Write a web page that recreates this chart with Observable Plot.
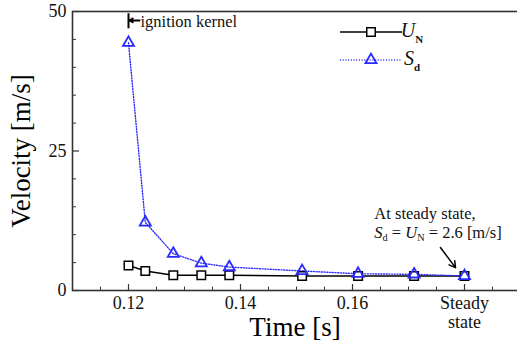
<!DOCTYPE html>
<html>
<head>
<meta charset="utf-8">
<script src="https://cdn.jsdelivr.net/npm/d3@7"></script>
<script src="https://cdn.jsdelivr.net/npm/@observablehq/plot@0.6"></script>
<style>
  html, body { margin: 0; padding: 0; background: #fff; }
  svg { display: block; }
</style>
</head>
<body>
<div id="chart"></div>
<script>
// ---- data ----
const times = [0.12, 0.123, 0.128, 0.133, 0.138, 0.151, 0.161, 0.171, 0.18];
const UN    = [4.5, 3.5, 2.75, 2.75, 2.75, 2.6, 2.6, 2.6, 2.6];
const Sd    = [44.4, 12.2, 6.6, 4.9, 4.2, 3.5, 3.0, 2.9, 2.6];

const xMajor = [0.12, 0.14, 0.16, 0.18];
const xLabels = ["0.12", "0.14", "0.16", "Steady\nstate"];
const xMinor = [0.115, 0.125, 0.13, 0.135, 0.145, 0.15, 0.155, 0.165, 0.17, 0.175, 0.185];
const yMajor = [0, 25, 50];
const yLabels = ["0", "25", "50"];
const yMinor = [5, 10, 15, 20, 30, 35, 40, 45];

const unData = times.map((t, i) => ({t, v: UN[i]}));
const sdData = times.map((t, i) => ({t, v: Sd[i]}));
const xTickData = xMajor.map((t, i) => ({t, label: xLabels[i]}));
const yTickData = yMajor.map((v, i) => ({v, label: yLabels[i]}));

// annotations (data units)
const ignition = {x: 0.12, y1: 46.9, y2: 49.6, ym: 48.4, textX: 0.12196, label: "ignition kernel"};
const steady = {x: 0.1639, y1: 13.8, y2: 10.4, arrowX1: 0.1757, arrowY1: 7.7, arrowX2: 0.1784, arrowY2: 4.1,
  line1: "At steady state,", line2: "S_d = U_N = 2.6 [m/s]"};

const W = 517, H = 345;
const mL = 72, mT = 11, mB = 55, mR = 0;
const frameW = W - mL - mR, frameH = H - mT - mB;
const font = "Liberation Serif";
const blue = "#2a2aff";
const axisColor = "#333";
const dotted = "1,1.7";

const plot = Plot.plot({
  width: W, height: H,
  marginLeft: mL, marginTop: mT, marginBottom: mB, marginRight: mR,
  style: {background: "#fff", overflow: "visible"},
  x: {domain: [0.11, 0.11 + frameW / 5600], axis: null},
  y: {domain: [0, 50], axis: null},
  marks: [
    // ticks (inward)
    Plot.ruleX(xMajor, {x: d => d, insetTop: frameH - 6, stroke: axisColor, strokeWidth: 1.2}),
    Plot.ruleX(xMinor, {x: d => d, insetTop: frameH - 3.5, stroke: axisColor, strokeWidth: 1}),
    Plot.ruleY(yMajor, {y: d => d, insetRight: frameW - 7, stroke: axisColor, strokeWidth: 1.2}),
    Plot.ruleY(yMinor, {y: d => d, insetRight: frameW - 4, stroke: axisColor, strokeWidth: 1}),
    // frame
    Plot.frame({stroke: axisColor, strokeWidth: 1.6, insetRight: -5}),
    // tick labels
    Plot.text(xTickData, {x: "t", text: "label", frameAnchor: "bottom", textAnchor: "middle", lineAnchor: "top", dy: 5,
      lineHeight: 1.05, fontSize: 18, fill: "#111"}),
    Plot.text(yTickData, {y: "v", text: "label", frameAnchor: "left", textAnchor: "end", lineAnchor: "middle", dx: -6,
      fontSize: 18, fill: "#111"}),
    // axis labels
    Plot.text(["Velocity [m/s]"], {frameAnchor: "left", textAnchor: "middle", lineAnchor: "middle", rotate: -90, dx: -51, fontSize: 27, fill: "#000"}),
    Plot.text(["Time [s]"], {frameAnchor: "bottom", textAnchor: "middle", lineAnchor: "middle", dy: 37, fontSize: 27, fill: "#000"}),
    // series
    Plot.line(unData, {x: "t", y: "v", stroke: "#000", strokeWidth: 1.5}),
    Plot.line(sdData, {x: "t", y: "v", stroke: blue, strokeWidth: 1.4, strokeDasharray: dotted}),
    Plot.dot(unData, {x: "t", y: "v", symbol: "square", r: 4.8, stroke: "#000", fill: "#fff", strokeWidth: 1.5}),
    Plot.dot(sdData, {x: "t", y: "v", symbol: "triangle", r: 4.1, stroke: blue, fill: "none", strokeWidth: 1.8}),
    // ignition kernel annotation
    Plot.ruleX([ignition], {x: "x", y1: "y1", y2: "y2", stroke: "#000", strokeWidth: 2}),
    Plot.arrow([ignition], {x1: "textX", x2: "x", y1: "ym", y2: "ym", stroke: "#000", strokeWidth: 2, headLength: 5, insetEnd: 1}),
    Plot.text([ignition], {x: "textX", y: "ym", text: "label", textAnchor: "start", dx: 1, dy: 1, fontSize: 16.5, fill: "#111"}),
    // steady-state annotation
    Plot.text([steady], {x: "x", y: "y1", text: "line1", textAnchor: "start", fontSize: 16.5, fill: "#111"}),
    Plot.text([steady], {x: "x", y: "y2", text: "line2", textAnchor: "start", fontSize: 16.5, fill: "#111"}),
    Plot.arrow([steady], {x1: "arrowX1", y1: "arrowY1", x2: "arrowX2", y2: "arrowY2", stroke: "#000", strokeWidth: 1.5, headLength: 7})
  ]
});

const svg = d3.select(plot);
// rich text for subscripts
function rich(sel, parts) {
  sel.text(null);
  parts.forEach(([s, style]) => {
    const t = sel.append("tspan").text(s);
    if (style === "i") t.attr("font-style", "italic");
    if (style === "sub") t.attr("font-size", "0.62em").attr("baseline-shift", "-30%");
  });
}
svg.selectAll("text").each(function() {
  const el = d3.select(this);
  if (el.text() === steady.line2) {
    rich(el, [["S", "i"], ["d", "sub"], [" = ", ""], ["U", "i"], ["N", "sub"], [" = 2.6 [m/s]", ""]]);
  }
});

// legend inside the frame
const legend = svg.append("g");
const legendItems = [
  {name: "U", sub: "N", stroke: "#000", dash: null, width: 1.6, symbol: d3.symbolSquare, size: Math.PI * 4.8 * 4.8, fill: "#fff", sw: 1.5},
  {name: "S", sub: "d", stroke: blue, dash: dotted, width: 1.4, symbol: d3.symbolTriangle, size: Math.PI * 4.1 * 4.1, fill: "none", sw: 1.8}
];
legendItems.forEach((it, i) => {
  const ly = 32 + i * 28;
  legend.append("line").attr("x1", 340).attr("x2", 402).attr("y1", ly).attr("y2", ly)
    .attr("stroke", it.stroke).attr("stroke-width", it.width).attr("stroke-dasharray", it.dash);
  legend.append("path").attr("d", d3.symbol(it.symbol, it.size)()).attr("transform", `translate(371,${ly})`)
    .attr("stroke", it.stroke).attr("fill", it.fill).attr("stroke-width", it.sw);
  const t = legend.append("text").attr("x", 412).attr("y", ly + 5).attr("font-size", 20).attr("fill", "#111");
  t.append("tspan").attr("font-style", "italic").text(it.name);
  t.append("tspan").attr("font-size", 11).attr("font-weight", "bold").attr("dy", 6).text(it.sub);
});

// serif font on every text
svg.attr("font-family", font).style("font-family", font);
svg.selectAll("g, text, tspan").attr("font-family", font);
svg.selectAll("text, tspan").style("font-family", font);

document.getElementById("chart").appendChild(plot);
</script>
</body>
</html>
